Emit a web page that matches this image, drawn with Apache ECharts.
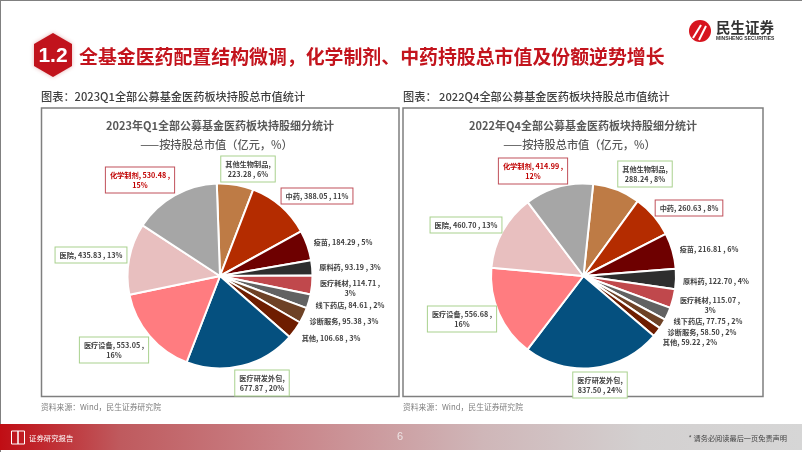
<!DOCTYPE html>
<html><head><meta charset="utf-8">
<style>html,body{margin:0;padding:0;background:#fff}#c{width:802px;height:452px}</style>
<script src="https://cdn.jsdelivr.net/npm/echarts@6/dist/echarts.min.js"></script>
</head><body><div id="c"></div>
<script>
const categories = ['其他生物制品','中药','疫苗','原料药','医疗耗材','线下药店','诊断服务','其他','医疗研发外包','医疗设备','医院','化学制剂'];
const valuesQ1 = [223.28,388.05,184.29,93.19,114.71,84.61,95.38,106.68,677.87,553.05,435.83,530.48];
const pctQ1 = ['6%','11%','5%','3%','3%','2%','3%','3%','20%','16%','13%','15%'];
const valuesQ4 = [288.24,260.63,216.81,122.70,115.07,77.75,58.50,59.22,837.50,556.68,460.70,414.99];
const pctQ4 = ['8%','8%','6%','4%','3%','2%','2%','2%','24%','16%','13%','12%'];
const colors = ['#BE7B45','#B42C00','#6E0000','#2E2E2E','#C0484C','#626262','#6E4226','#6E1D00','#05507F','#FF7C80','#E8BFBF','#A6A6A6'];
const breakAfterName = ['其他生物制品','医疗研发外包'];
const breakBeforePct = ['医疗耗材','医疗设备','化学制剂'];
const redBox = ['中药','化学制剂'];
const greenBox = ['其他生物制品','医院','医疗设备','医疗研发外包'];
// label centres, in page pixels, by category order
const labelPosQ1 = [[248,169],[317,196],[343,242],[350,267],[350,288],[350,305],[344,321],[331,338],[262,383],[114,350],[91,255],[140,180]];
const labelPosQ4 = [[645,174],[689,208],[709,249],[716,281],[710,305],[708,321],[702,332],[690,342],[600,385],[462,319],[466,225],[533,171]];

const fmt = (name,v,p)=>{
  const val = v.toFixed(2);
  if (breakAfterName.includes(name)) return name+',\n'+val+' , '+p;
  if (breakBeforePct.includes(name)) return name+', '+val+' ,\n'+p;
  return name+', '+val+' , '+p;
};
const FONT='"Noto Sans CJK SC","Noto Sans",sans-serif';
function pie(center,startAngle,values,pcts,pos){
  return {
    type:'pie',center:center,radius:[0,92.5],startAngle:startAngle,clockwise:true,
    animation:false,avoidLabelOverlap:false,silent:true,
    itemStyle:{borderColor:'#fff',borderWidth:2},
    labelLine:{show:false},
    labelLayout:(p)=>({x:pos[p.dataIndex][0],y:pos[p.dataIndex][1],align:'center',verticalAlign:'middle',hideOverlap:false}),
    data:categories.map((n,i)=>{
      const box = redBox.includes(n)?'#C0505A':greenBox.includes(n)?'#A9D18E':'transparent';
      return {name:n,value:values[i],itemStyle:{color:colors[i]},
        label:{show:true,position:'outside',formatter:fmt(n,values[i],pcts[i]),
          fontFamily:FONT,fontSize:7.2,fontWeight:'bold',lineHeight:10,align:'center',
          color:n==='化学制剂'?'#C00000':'#404040',
          borderColor:box,borderWidth:1,padding:[2.5,4],backgroundColor:box==='transparent'?'transparent':'#fff'}};
    })
  };
}
const txt=(x,y,text,size,color,weight,align,font)=>({type:'text',x:x,y:y,silent:true,z:5,
  style:{text:text,fontSize:size,fill:color,fontWeight:weight||'normal',fontFamily:font||FONT,textAlign:align||'left',textVerticalAlign:'middle'}});
const rect=(x,y,w,h,st,z)=>({type:'rect',silent:true,z:z||0,shape:{x:x,y:y,width:w,height:h},style:st});
const graphic=[
  rect(0,0,802,1,{fill:'#808080'}),rect(0,0,1,452,{fill:'#808080'}),
  rect(0,424,802,26,{fill:{type:'linear',x:0,y:0,x2:1,y2:0,colorStops:[{offset:0,color:'#C00D14'},{offset:.15,color:'#BF5A5E'},{offset:.35,color:'#C98287'},{offset:.6,color:'#CFB6B8'},{offset:.8,color:'#D3D0D0'},{offset:1,color:'#D6D6D6'}]}}),
  {type:'polygon',silent:true,shape:{points:[[53,33],[72,44],[72,66],[53,77],[34,66],[34,44]]},style:{fill:'#C1131C',shadowBlur:4,shadowColor:'rgba(190,60,60,.4)'}},
  txt(53,56,'1.2',21,'#fff','bold','center','"Liberation Sans",sans-serif'),
  txt(79,57,'全基金医药配置结构微调\uFF0C化学制剂、中药持股总市值及份额逆势增长',18.9,'#C3141D','bold'),
  {type:'circle',silent:true,shape:{cx:700,cy:31,r:11},style:{fill:'#D7141E'}},
  {type:'line',silent:true,z:2,shape:{x1:693,y1:38,x2:701,y2:25},style:{stroke:'#fff',lineWidth:2}},
  {type:'line',silent:true,z:2,shape:{x1:699,y1:40,x2:706,y2:26},style:{stroke:'#fff',lineWidth:2}},
  txt(716,27,'民生证券',14.5,'#333','bold'),
  txt(716,38.5,'MINSHENG SECURITIES',5,'#333','bold','left','"Liberation Sans",sans-serif'),
  txt(41,97,'图表\uFF1A2023Q1全部公募基金医药板块持股总市值统计',11.2,'#404040','500'),
  txt(403,97,'图表\uFF1A 2022Q4全部公募基金医药板块持股总市值统计',11.2,'#404040','500'),
  rect(41.5,108,357.5,288.5,{fill:'#fff',stroke:'#7F7F7F',lineWidth:1.5}),
  rect(403,108,360,288.5,{fill:'#fff',stroke:'#7F7F7F',lineWidth:1.5}),
  txt(220,126,'2023年Q1全部公募基金医药板块持股细分统计',11,'#595959','bold','center'),
  txt(216.5,145,'——按持股总市值\uFF08亿元\uFF0C%\uFF09',11.2,'#595959','500','center'),
  txt(583,126,'2022年Q4全部公募基金医药板块持股细分统计',11,'#595959','bold','center'),
  txt(579.5,145,'——按持股总市值\uFF08亿元\uFF0C%\uFF09',11.2,'#595959','500','center'),
  txt(41,407,'资料来源\uFF1AWind\uFF0C民生证券研究院',7.8,'#7F7F7F'),
  txt(403,407,'资料来源\uFF1AWind\uFF0C民生证券研究院',7.8,'#7F7F7F'),
  {type:'rect',silent:true,z:3,shape:{x:11.5,y:431,width:6.5,height:13},style:{fill:'none',stroke:'#fff',lineWidth:1}},
  {type:'rect',silent:true,z:3,shape:{x:18,y:431,width:6.5,height:13},style:{fill:'none',stroke:'#fff',lineWidth:1}},
  txt(29,438,'证券研究报告',7.4,'#fff'),
  txt(400,437,'6',11,'#EDE3E3','normal','center','"Liberation Sans",sans-serif'),
  txt(787,438,'* 请务必阅读最后一页免责声明',7.2,'#444','normal','right')
];
const chart=echarts.init(document.getElementById('c'),null,{renderer:'canvas'});
chart.setOption({
  backgroundColor:'#fff',animation:false,
  graphic:{elements:graphic},
  series:[pie([220,276],92,valuesQ1,pctQ1,labelPosQ1),pie([583.5,276],84,valuesQ4,pctQ4,labelPosQ4)]
});
</script></body></html>
